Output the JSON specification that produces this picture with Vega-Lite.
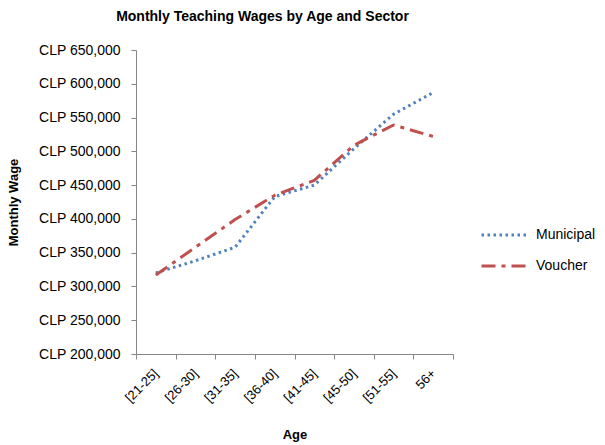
{
  "$schema": "https://vega.github.io/schema/vega-lite/v6.json",
  "autosize": "none",
  "width": 317,
  "height": 304,
  "padding": {"left": 136, "top": 50, "right": 152, "bottom": 91},
  "background": "white",
  "config": {"view": {"stroke": null}, "font": "Liberation Sans"},
  "title": {"text": "Monthly Teaching Wages by Age and Sector", "fontSize": 14, "fontWeight": "bold", "color": "#000000", "anchor": "middle", "frame": "group", "dx": -32, "offset": 19},
  "data": {"values": [
    {"age": "[21-25]", "sector": "Municipal", "wage": 320000},
    {"age": "[26-30]", "sector": "Municipal", "wage": 338000},
    {"age": "[31-35]", "sector": "Municipal", "wage": 358000},
    {"age": "[36-40]", "sector": "Municipal", "wage": 433000},
    {"age": "[41-45]", "sector": "Municipal", "wage": 450000},
    {"age": "[45-50]", "sector": "Municipal", "wage": 504000},
    {"age": "[51-55]", "sector": "Municipal", "wage": 555000},
    {"age": "56+", "sector": "Municipal", "wage": 587000},
    {"age": "[21-25]", "sector": "Voucher", "wage": 317000},
    {"age": "[26-30]", "sector": "Voucher", "wage": 358000},
    {"age": "[31-35]", "sector": "Voucher", "wage": 399000},
    {"age": "[36-40]", "sector": "Voucher", "wage": 435000},
    {"age": "[41-45]", "sector": "Voucher", "wage": 457000},
    {"age": "[45-50]", "sector": "Voucher", "wage": 509000},
    {"age": "[51-55]", "sector": "Voucher", "wage": 539000},
    {"age": "56+", "sector": "Voucher", "wage": 522000}
  ]},
  "mark": {"type": "line", "strokeWidth": 3},
  "encoding": {
    "x": {"field": "age", "type": "nominal", "sort": null, "title": "Age",
      "scale": {"type": "band", "paddingInner": 0, "paddingOuter": 0},
      "axis": {"labelAngle": -45, "labelAlign": "right", "labelBaseline": "middle", "labelFontSize": 13, "labelColor": "#000000", "labelPadding": 12,
        "titleFontSize": 13, "titleFontWeight": "bold", "titleColor": "#000000", "titlePadding": 24,
        "domainColor": "#868686", "tickColor": "#868686", "tickSize": 5, "tickBand": "extent", "grid": false}},
    "y": {"field": "wage", "type": "quantitative", "title": "Monthly Wage",
      "scale": {"domain": [200000, 650000], "nice": false, "zero": false},
      "axis": {"values": [200000, 250000, 300000, 350000, 400000, 450000, 500000, 550000, 600000, 650000],
        "labelExpr": "'CLP ' + format(datum.value, ',')", "labelFontSize": 14, "labelColor": "#000000", "labelPadding": 11,
        "titleFontSize": 13, "titleFontWeight": "bold", "titleColor": "#000000", "titlePadding": 18,
        "domainColor": "#868686", "tickColor": "#868686", "tickSize": 5, "grid": false}},
    "color": {"field": "sector", "type": "nominal",
      "scale": {"domain": ["Municipal", "Voucher"], "range": ["#4F81BD", "#C0504D"]},
      "legend": {"orient": "none", "legendX": 344, "legendY": 161, "title": null, "symbolType": "stroke", "symbolSize": 2025, "symbolStrokeWidth": 3, "labelFontSize": 14, "labelColor": "#000000", "labelOffset": 8, "rowPadding": -13}},
    "strokeDash": {"field": "sector", "type": "nominal",
      "scale": {"domain": ["Municipal", "Voucher"], "range": [[2.5, 3.5], [14, 6, 4, 6]]},
      "legend": null}
  }
}
